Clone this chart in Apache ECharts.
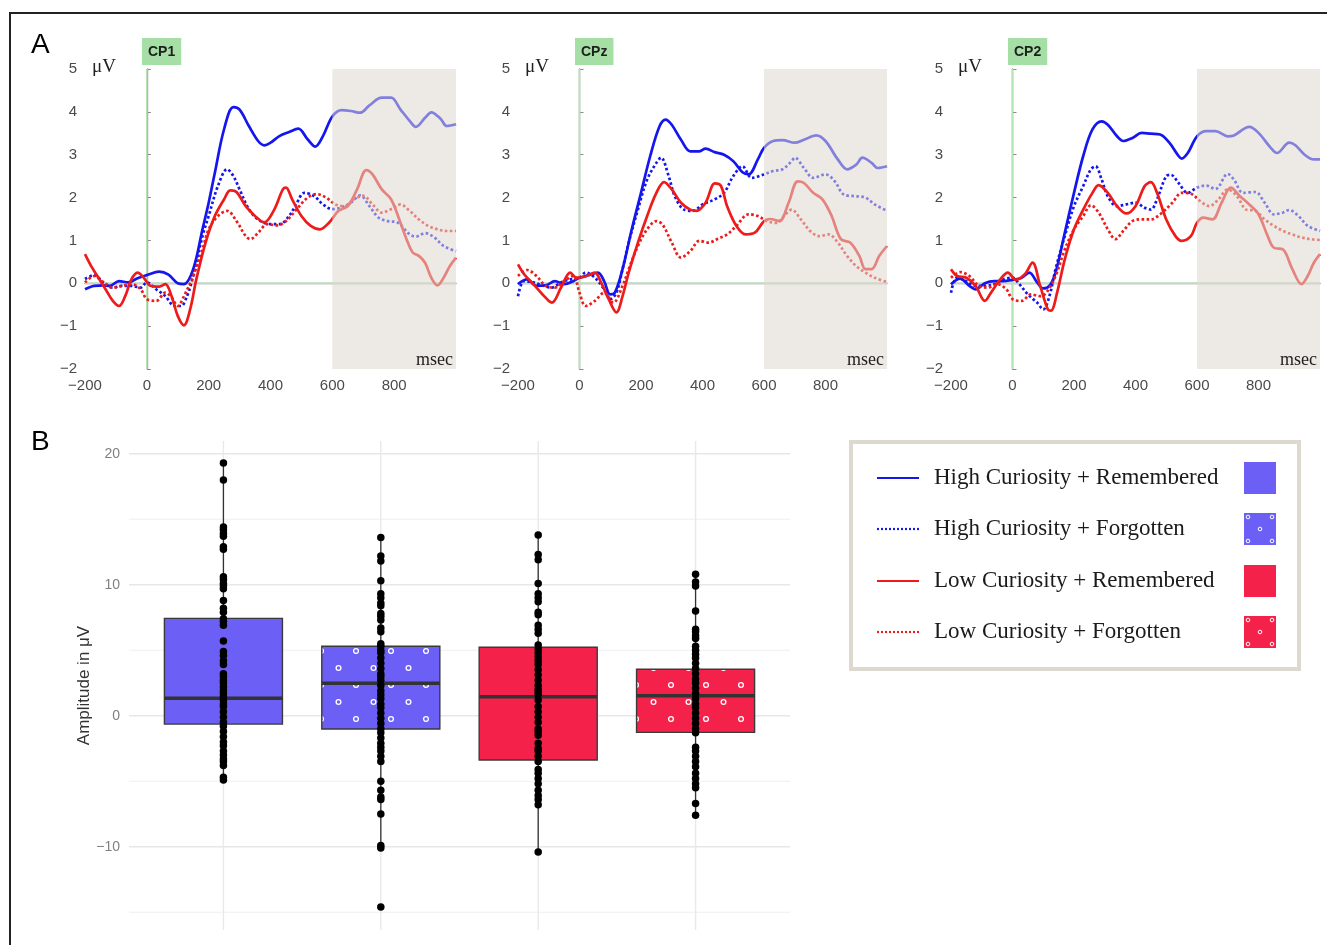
<!DOCTYPE html>
<html><head><meta charset="utf-8">
<script src="https://cdn.jsdelivr.net/npm/echarts@6/dist/echarts.min.js"></script>
<style>html,body{margin:0;padding:0;background:#fff}#c{width:1327px;height:945px}</style>
</head><body><div id="c"></div>
<script>
// ---------- Panel A data: ERP waveforms [msec, µV] ----------
const cp1_highRem = [[-200,-0.14],[-170,-0.06],[-140,-0.05],[-120,-0.06],[-90,0.05],[-60,0.02],[-30,0.12],[0,0.19],[40,0.27],[70,0.2],[100,0.0],[120,-0.02],[150,0.33],[180,1.26],[200,1.88],[220,2.58],[250,3.6],[280,4.11],[300,4.05],[330,3.67],[360,3.32],[380,3.22],[400,3.28],[430,3.44],[460,3.53],[490,3.61],[520,3.36],[545,3.19],[570,3.44],[600,3.89],[630,4.04],[660,4.02],[690,3.98],[720,4.15],[760,4.33],[790,4.33],[820,4.06],[850,3.79],[870,3.65],[900,3.86],[920,3.99],[950,3.84],[970,3.67],[1000,3.71]];
const cp1_highForg = [[-200,0.1],[-170,0.19],[-140,0.02],[-110,-0.1],[-80,-0.06],[-50,-0.06],[-20,-0.1],[0,0.02],[30,-0.14],[60,-0.3],[90,-0.53],[110,-0.53],[130,-0.3],[150,0.17],[180,1.1],[200,1.57],[230,2.27],[260,2.66],[280,2.5],[300,2.19],[330,1.73],[360,1.49],[400,1.38],[430,1.38],[460,1.57],[480,1.8],[510,2.11],[540,2.04],[570,1.84],[600,1.73],[630,1.77],[660,1.88],[690,2.05],[720,1.8],[750,1.53],[780,1.45],[810,1.42],[850,1.14],[870,1.09],[900,1.17],[930,1.07],[960,0.87],[1000,0.75]];
const cp1_lowRem = [[-200,0.68],[-180,0.4],[-160,0.17],[-130,-0.18],[-110,-0.41],[-90,-0.53],[-70,-0.3],[-50,0.09],[-30,0.25],[-10,0.13],[10,-0.05],[40,-0.08],[60,-0.02],[80,-0.3],[100,-0.76],[120,-0.98],[140,-0.61],[160,0.09],[190,0.95],[220,1.57],[250,1.96],[270,2.17],[290,2.13],[320,1.8],[350,1.57],[380,1.42],[410,1.69],[440,2.19],[450,2.23],[470,1.96],[500,1.57],[530,1.34],[560,1.26],[590,1.42],[620,1.69],[650,1.8],[680,2.19],[710,2.64],[730,2.54],[760,2.19],[790,1.96],[820,1.42],[840,1.03],[860,0.72],[880,0.64],[900,0.48],[920,0.13],[940,-0.05],[960,0.13],[980,0.4],[1000,0.6]];
const cp1_lowForg = [[-200,0.02],[-170,0.17],[-140,0.02],[-110,-0.1],[-80,-0.06],[-50,-0.02],[-20,-0.14],[0,-0.37],[30,-0.41],[60,-0.22],[80,-0.33],[100,-0.53],[120,-0.3],[150,0.17],[180,0.79],[200,1.26],[230,1.57],[260,1.69],[290,1.45],[320,1.1],[335,1.03],[360,1.18],[390,1.38],[420,1.35],[450,1.45],[480,1.69],[520,2.0],[550,2.08],[580,2.0],[610,1.84],[640,1.8],[670,1.96],[700,2.04],[730,1.84],[760,1.65],[790,1.73],[820,1.84],[850,1.69],[880,1.49],[910,1.34],[940,1.26],[970,1.22],[1000,1.22]];

const cpz_highRem = [[-200,-0.02],[-170,0.09],[-140,-0.06],[-110,-0.05],[-80,0.05],[-50,-0.02],[-20,0.05],[0,0.13],[30,0.19],[60,0.25],[80,0.05],[100,-0.26],[115,-0.22],[140,0.33],[170,1.26],[200,2.11],[230,2.97],[260,3.66],[280,3.82],[300,3.7],[330,3.35],[360,3.08],[390,3.08],[410,3.14],[440,3.06],[470,3.0],[500,2.85],[530,2.59],[550,2.54],[580,2.89],[600,3.16],[630,3.32],[660,3.34],[700,3.28],[730,3.35],[770,3.45],[800,3.32],[840,2.89],[870,2.66],[900,2.77],[920,2.93],[950,2.81],[970,2.69],[1000,2.73]];
const cpz_highForg = [[-200,-0.3],[-180,0.05],[-150,0.02],[-120,-0.05],[-90,-0.1],[-60,0.02],[-30,0.09],[0,0.13],[20,0.25],[50,0.13],[80,-0.14],[100,-0.37],[120,-0.22],[140,0.33],[160,0.95],[190,1.72],[220,2.42],[250,2.81],[265,2.93],[290,2.5],[310,2.03],[340,1.72],[370,1.69],[400,1.84],[440,1.96],[470,2.11],[500,2.5],[530,2.73],[560,2.46],[600,2.54],[630,2.62],[660,2.66],[690,2.85],[700,2.93],[730,2.69],[760,2.46],[800,2.54],[830,2.38],[860,2.07],[900,2.03],[930,2.0],[960,1.84],[1000,1.69]];
const cpz_lowRem = [[-200,0.44],[-180,0.21],[-150,-0.02],[-120,-0.26],[-90,-0.45],[-60,-0.1],[-30,0.25],[-10,0.13],[20,0.16],[50,0.25],[70,0.02],[95,-0.37],[120,-0.68],[140,-0.3],[160,0.25],[190,0.95],[220,1.57],[250,2.11],[275,2.36],[300,2.19],[330,1.88],[360,1.72],[380,1.69],[410,1.88],[440,2.33],[460,2.27],[480,1.8],[510,1.34],[540,1.14],[570,1.18],[600,1.45],[620,1.5],[650,1.45],[680,1.88],[710,2.38],[730,2.34],[760,2.11],[790,1.96],[820,1.57],[850,1.03],[880,0.95],[910,0.64],[930,0.33],[950,0.33],[975,0.64],[1000,0.87]];
const cpz_lowForg = [[-200,0.17],[-170,0.31],[-140,0.17],[-110,-0.06],[-80,-0.1],[-50,0.05],[-20,0.17],[0,-0.22],[20,-0.53],[50,-0.41],[80,-0.22],[110,-0.45],[140,-0.06],[160,0.33],[190,0.87],[220,1.26],[250,1.45],[270,1.37],[300,0.95],[330,0.6],[360,0.75],[390,0.99],[420,0.95],[450,1.04],[480,1.14],[510,1.34],[550,1.61],[580,1.57],[610,1.45],[640,1.41],[670,1.61],[690,1.72],[720,1.49],[750,1.22],[780,1.1],[810,1.14],[840,0.95],[870,0.64],[900,0.4],[930,0.25],[960,0.13],[1000,0.03]];

const cp2_highRem = [[-200,-0.02],[-170,0.11],[-140,-0.06],[-120,-0.14],[-90,0.0],[-60,0.05],[-30,0.05],[0,0.08],[30,0.13],[55,0.25],[80,0.02],[100,-0.12],[120,-0.06],[140,0.25],[170,1.18],[200,2.11],[230,2.97],[260,3.59],[290,3.78],[310,3.7],[340,3.43],[360,3.32],[390,3.39],[420,3.51],[450,3.49],[480,3.47],[510,3.28],[540,2.97],[550,2.91],[570,3.04],[600,3.43],[630,3.55],[660,3.55],[700,3.43],[720,3.45],[770,3.65],[800,3.51],[840,3.16],[860,3.04],[900,3.28],[920,3.22],[950,3.0],[980,2.89],[1000,2.89]];
const cp2_highForg = [[-200,-0.22],[-180,0.13],[-150,0.05],[-120,-0.06],[-90,-0.06],[-60,-0.02],[-30,0.09],[0,0.13],[20,0.0],[50,-0.26],[80,-0.45],[100,-0.61],[120,-0.3],[140,0.33],[170,1.1],[200,1.8],[230,2.27],[255,2.66],[270,2.73],[290,2.42],[310,2.03],[340,1.8],[370,1.84],[400,1.88],[430,1.76],[450,1.72],[470,1.96],[500,2.5],[515,2.53],[540,2.34],[570,2.11],[600,2.23],[630,2.28],[660,2.2],[700,2.55],[720,2.42],[750,2.11],[790,2.13],[820,1.88],[850,1.61],[880,1.65],[900,1.71],[930,1.57],[960,1.34],[1000,1.22]];
const cp2_lowRem = [[-200,0.33],[-180,0.17],[-150,0.13],[-120,-0.06],[-90,-0.41],[-70,-0.22],[-40,0.09],[-15,0.25],[10,0.08],[40,0.21],[65,0.48],[90,-0.06],[115,-0.61],[125,-0.64],[145,-0.22],[170,0.56],[200,1.26],[230,1.72],[260,2.11],[280,2.29],[310,2.11],[340,1.8],[370,1.63],[400,1.8],[430,2.27],[450,2.36],[470,2.11],[500,1.49],[530,1.1],[550,0.99],[580,1.1],[600,1.41],[620,1.53],[650,1.49],[680,1.88],[710,2.23],[740,2.03],[770,1.84],[800,1.61],[830,1.1],[850,0.83],[880,0.79],[910,0.33],[940,-0.02],[960,0.17],[980,0.48],[1000,0.68]];
const cp2_lowForg = [[-200,0.13],[-170,0.26],[-140,0.17],[-110,-0.06],[-80,-0.1],[-50,-0.02],[-20,-0.14],[0,-0.37],[30,-0.41],[60,-0.26],[90,-0.3],[110,-0.22],[140,0.17],[170,0.79],[200,1.26],[230,1.57],[255,1.82],[280,1.65],[310,1.26],[335,1.03],[360,1.22],[390,1.45],[420,1.49],[450,1.49],[480,1.61],[520,1.88],[550,2.11],[580,2.09],[610,1.92],[640,1.8],[670,1.96],[700,2.19],[730,2.03],[760,1.72],[790,1.69],[820,1.49],[850,1.34],[880,1.22],[910,1.14],[940,1.07],[970,1.03],[1000,1.01]];

const electrodes = ['CP1', 'CPz', 'CP2'];
const conditionNames = ['High Curiosity + Remembered', 'High Curiosity + Forgotten', 'Low Curiosity + Remembered', 'Low Curiosity + Forgotten'];
const erpData = [
  [cp1_highRem, cp1_highForg, cp1_lowRem, cp1_lowForg],
  [cpz_highRem, cpz_highForg, cpz_lowRem, cpz_lowForg],
  [cp2_highRem, cp2_highForg, cp2_lowRem, cp2_lowForg]
];
const analysisWindow = [600, 1000];

// ---------- Panel B data: amplitude box plots ----------
// [lower whisker, Q1, median, Q3, upper whisker]
const boxStats = [
  [-4.96, -0.64, 1.33, 7.43, 19.3],
  [-10.1, -1.02, 2.47, 5.3, 13.59],
  [-10.43, -3.38, 1.45, 5.22, 13.77],
  [-7.63, -1.27, 1.53, 3.54, 10.84]
];
const pts_highRem = [19.3, 18.0, 14.4, 14.2, 13.9, 13.7, 12.9, 12.7, 10.6, 10.4, 10.1, 9.9, 9.7, 8.8, 8.2, 7.9, 7.4, 7.2, 6.9, 5.7, 4.9, 4.6, 4.2, 3.9, 3.2, 3.0, 2.7, 2.5, 2.2, 1.9, 1.7, 1.45, 1.2, 0.9, 0.7, 0.3, -0.1, -0.5, -0.8, -1.2, -1.6, -2.0, -2.3, -2.7, -3.0, -3.3, -3.5, -3.8, -4.7, -4.9];
const pts_highForg = [13.6, 12.2, 11.8, 10.3, 9.3, 9.0, 8.6, 8.4, 7.8, 7.6, 7.3, 6.7, 6.4, 5.5, 5.3, 5.0, 4.8, 4.4, 4.0, 3.6, 3.2, 3.0, 2.7, 2.3, 1.9, 1.6, 1.3, 0.9, 0.6, 0.2, -0.2, -0.6, -1.0, -1.3, -1.7, -2.1, -2.4, -2.7, -3.1, -3.5, -5.0, -5.7, -6.2, -6.4, -7.5, -9.9, -10.1, -14.6];
const pts_lowRem = [13.8, 12.3, 11.9, 10.1, 9.3, 9.0, 8.7, 7.9, 7.7, 6.9, 6.6, 6.3, 5.4, 5.1, 4.8, 4.5, 4.2, 3.9, 3.5, 3.1, 2.7, 2.3, 2.0, 1.8, 1.6, 1.2, 0.7, 0.3, -0.1, -0.5, -1.0, -1.2, -1.5, -2.1, -2.5, -2.7, -3.1, -3.5, -4.1, -4.4, -4.8, -5.2, -5.7, -6.1, -6.4, -6.8, -10.4];
const pts_lowForg = [10.8, 10.2, 9.9, 8.0, 6.6, 6.4, 6.1, 5.9, 5.3, 5.0, 4.7, 4.4, 4.0, 3.6, 3.2, 2.8, 2.5, 2.1, 1.7, 1.3, 0.9, 0.6, 0.2, -0.2, -0.6, -1.0, -1.3, -2.4, -2.7, -3.1, -3.5, -3.9, -4.4, -4.8, -5.2, -5.5, -6.7, -7.6];
const boxPoints = [pts_highRem, pts_highForg, pts_lowRem, pts_lowForg];
const boxMajorTicks = [-10, 0, 10, 20];
const boxMinorTicks = [-15, -5, 5, 15];
const boxCategories = [1, 2, 3, 4];

// ---------- styling ----------
const BLUE = '#1515ee', RED = '#ee1b1b';
const lineColors = [BLUE, BLUE, RED, RED];
const lineTypes = ['solid', [2.6, 2.4], 'solid', [2.6, 2.4]];
const BOX_BLUE = '#6b5ff5', BOX_RED = '#f4224a';
const GREEN = '#b4e3b4';

function makePattern(bg) {
  const c = document.createElement('canvas');
  c.width = 35; c.height = 34;
  const g = c.getContext('2d');
  g.fillStyle = bg; g.fillRect(0, 0, 35, 34);
  g.strokeStyle = '#ffffff'; g.lineWidth = 1.3;
  [[6, 5], [23.5, 22]].forEach(([x, y]) => { g.beginPath(); g.arc(x, y, 2.4, 0, Math.PI * 2); g.stroke(); });
  return c;
}
function makeLegendPattern(bg) {
  const c = document.createElement('canvas');
  c.width = 32; c.height = 32;
  const g = c.getContext('2d');
  g.fillStyle = bg; g.fillRect(0, 0, 32, 32);
  g.strokeStyle = '#ffffff'; g.lineWidth = 1;
  [[4, 4], [28, 4], [16, 16], [4, 28], [28, 28]].forEach(([x, y]) => { g.beginPath(); g.arc(x, y, 1.8, 0, Math.PI * 2); g.stroke(); });
  return c;
}
const bluePattern = makePattern(BOX_BLUE), redPattern = makePattern(BOX_RED);
// pattern phase: tile origin in page pixels
const boxFills = [BOX_BLUE, { image: bluePattern, repeat: 'repeat', x: 350, y: 646 }, BOX_RED, { image: redPattern, repeat: 'repeat', x: 350, y: 646 }];

const minus = v => String(v).replace('-', '\u2212');

const panels = [{ left: 85, width: 371 }, { left: 518, width: 369 }, { left: 951, width: 369 }];
const ERP_TOP = 69, ERP_H = 300;
const YMIN = -2, YMAX = 5;

const grids = [], xAxes = [], yAxes = [], series = [], titles = [], graphics = [];

panels.forEach((p, i) => {
  grids.push({ left: p.left, top: ERP_TOP, width: p.width, height: ERP_H });
  xAxes.push({
    type: 'value', gridIndex: i, min: -200, max: 1000, interval: 200,
    axisLine: { lineStyle: { color: '#8a8a8a', width: 1.4 } },
    axisTick: { show: false }, splitLine: { show: false },
    axisLabel: { showMaxLabel: false, color: '#4a4a4a', fontSize: 15, margin: 9, fontFamily: 'Liberation Sans', formatter: minus }
  });
  yAxes.push({
    type: 'value', gridIndex: i, min: YMIN, max: YMAX, interval: 1,
    axisLine: { show: true, lineStyle: { color: '#8a8a8a', width: 1.4 } },
    axisTick: { show: true, inside: true, length: 4, lineStyle: { color: '#8a8a8a' } },
    splitLine: { show: false },
    axisLabel: { color: '#4a4a4a', fontSize: 15, margin: 8, fontFamily: 'Liberation Sans', formatter: minus }
  });
  // zero reference lines (t = 0 and 0 µV)
  series.push({
    type: 'custom', xAxisIndex: i, yAxisIndex: i, z: 1, silent: true, clip: false,
    data: [[0, 0]],
    renderItem: (params, api) => {
      const cs = params.coordSys;
      const o = api.coord([api.value(0), api.value(1)]);
      return { type: 'group', children: [
        { type: 'line', shape: { x1: o[0], y1: cs.y, x2: o[0], y2: cs.y + cs.height }, style: { stroke: GREEN, lineWidth: 1.6 } },
        { type: 'line', shape: { x1: cs.x, y1: o[1], x2: cs.x + cs.width, y2: o[1] }, style: { stroke: GREEN, lineWidth: 1.6 } }
      ] };
    }
  });
  erpData[i].forEach((d, k) => {
    series.push({
      type: 'line', name: conditionNames[k], xAxisIndex: i, yAxisIndex: i, data: d,
      smooth: 0.35, showSymbol: false, z: 2, silent: true,
      lineStyle: { color: lineColors[k], width: 2.7, type: lineTypes[k], cap: 'butt' }
    });
  });
  // analysis window shading (drawn over the curves, translucent)
  series.push({
    type: 'custom', xAxisIndex: i, yAxisIndex: i, z: 3, silent: true,
    data: [analysisWindow],
    renderItem: (params, api) => {
      const a = api.coord([api.value(0), YMAX]);
      const b = api.coord([api.value(1), YMIN]);
      return { type: 'rect', shape: { x: a[0], y: a[1], width: b[0] - a[0], height: b[1] - a[1] },
        style: { fill: 'rgba(222,217,208,0.55)' } };
    }
  });
  titles.push({
    text: electrodes[i], left: p.left + 57, top: 38, backgroundColor: '#a6dfa6',
    padding: [7, 6, 6, 6],
    textStyle: { fontSize: 14, fontWeight: 'bold', color: '#1e1e1e', fontFamily: 'Liberation Sans' }
  });
  graphics.push({ type: 'text', z: 20, left: p.left + 7, top: 58, style: { text: '\u03bcV', font: '19px "Liberation Serif"', fill: '#222' } });
  graphics.push({ type: 'text', z: 20, left: p.left + p.width - 40, top: 351, style: { text: 'msec', font: '18px "Liberation Serif"', fill: '#222' } });
});

// ---------- Panel B grid ----------
const bi = 3;
grids.push({ left: 129, top: 441, right: 537, bottom: 15 });
xAxes.push({ type: 'value', gridIndex: bi, min: 0.4, max: 4.6, show: false, splitLine: { show: false } });
yAxes.push({
  type: 'value', gridIndex: bi, min: -16.36, max: 20.97,
  name: 'Amplitude in \u03bcV', nameLocation: 'middle', nameGap: 36,
  nameTextStyle: { fontSize: 17, color: '#333', fontFamily: 'Liberation Sans' },
  axisLine: { show: false }, axisTick: { show: false }, splitLine: { show: false },
  axisLabel: { customValues: boxMajorTicks, color: '#808080', fontSize: 14, margin: 9, fontFamily: 'Liberation Sans', formatter: minus }
});
// grid lines under the boxes
series.push({
  type: 'custom', xAxisIndex: bi, yAxisIndex: bi, z: 0, silent: true,
  data: [...boxMinorTicks.map(v => [0, v, 0]), ...boxMajorTicks.map(v => [0, v, 1]), ...boxCategories.map(c => [c, 0, 2])],
  renderItem: (params, api) => {
    const cs = params.coordSys;
    const kind = api.value(2);
    if (kind === 2) {
      const x = api.coord([api.value(0), 0])[0];
      return { type: 'line', shape: { x1: x, y1: cs.y, x2: x, y2: cs.y + cs.height }, style: { stroke: '#e9e9e9', lineWidth: 1.4 } };
    }
    const y = api.coord([1, api.value(1)])[1];
    return { type: 'line', shape: { x1: cs.x, y1: y, x2: cs.x + cs.width, y2: y },
      style: { stroke: kind === 1 ? '#e7e7e7' : '#efefef', lineWidth: kind === 1 ? 1.4 : 1.1 } };
  }
});
series.push({
  type: 'custom', xAxisIndex: bi, yAxisIndex: bi, z: 2, silent: true,
  data: boxStats.map((s, k) => [boxCategories[k], ...s]),
  renderItem: (params, api) => {
    const x = api.value(0);
    const lo = api.coord([x, api.value(1)]), q1 = api.coord([x, api.value(2)]),
      med = api.coord([x, api.value(3)]), q3 = api.coord([x, api.value(4)]), hi = api.coord([x, api.value(5)]);
    const hw = api.size([0.75, 0])[0] / 2;
    return { type: 'group', children: [
      { type: 'line', shape: { x1: lo[0], y1: lo[1], x2: hi[0], y2: hi[1] }, style: { stroke: '#333', lineWidth: 1.3 } },
      { type: 'rect', shape: { x: q3[0] - hw, y: q3[1], width: 2 * hw, height: q1[1] - q3[1] },
        style: { fill: boxFills[params.dataIndex], stroke: '#3a3a3a', lineWidth: 1.4 } },
      { type: 'line', shape: { x1: med[0] - hw, y1: med[1], x2: med[0] + hw, y2: med[1] }, style: { stroke: '#333', lineWidth: 3.5 } }
    ] };
  }
});
series.push({
  type: 'scatter', xAxisIndex: bi, yAxisIndex: bi, z: 4, silent: true,
  symbolSize: 7.5, itemStyle: { color: '#000', opacity: 1 },
  data: boxPoints.flatMap((arr, k) => arr.map(v => [boxCategories[k], v]))
});

// ---------- legend, frame, panel letters ----------
graphics.push({ type: 'line', shape: { x1: 10, y1: 13, x2: 1327, y2: 13 }, style: { stroke: '#222', lineWidth: 2 } });
graphics.push({ type: 'line', shape: { x1: 10, y1: 12, x2: 10, y2: 945 }, style: { stroke: '#222', lineWidth: 2 } });
graphics.push({ type: 'text', left: 31, top: 31, style: { text: 'A', font: '28px "Liberation Sans"', fill: '#000' } });
graphics.push({ type: 'text', left: 31, top: 428, style: { text: 'B', font: '28px "Liberation Sans"', fill: '#000' } });
graphics.push({ type: 'rect', shape: { x: 851, y: 442, width: 448, height: 227 }, style: { fill: '#fff', stroke: '#ddd9ce', lineWidth: 4 } });
const rowY = [478, 529, 581, 632];
conditionNames.forEach((n, k) => {
  graphics.push({ type: 'line', shape: { x1: 877, y1: rowY[k], x2: 919, y2: rowY[k] },
    style: { stroke: lineColors[k], lineWidth: 2.2, lineDash: k % 2 ? [2, 2] : null } });
  graphics.push({ type: 'text', x: 934, y: rowY[k], style: { text: n, font: '23px "Liberation Serif"', fill: '#1a1a1a', textVerticalAlign: 'middle', verticalAlign: 'middle' } });
  const top = rowY[k] - 16;
  const fill = k % 2 ? { image: makeLegendPattern(k < 2 ? BOX_BLUE : BOX_RED), repeat: 'repeat', x: 1244, y: top } : (k < 2 ? BOX_BLUE : BOX_RED);
  graphics.push({ type: 'rect', shape: { x: 1244, y: top, width: 32, height: 32 }, style: { fill: fill } });
});

const chart = echarts.init(document.getElementById('c'), null, { renderer: 'canvas' });
chart.setOption({
  animation: false,
  backgroundColor: '#fff',
  title: titles,
  grid: grids, xAxis: xAxes, yAxis: yAxes, series: series,
  graphic: graphics
});
</script></body></html>
